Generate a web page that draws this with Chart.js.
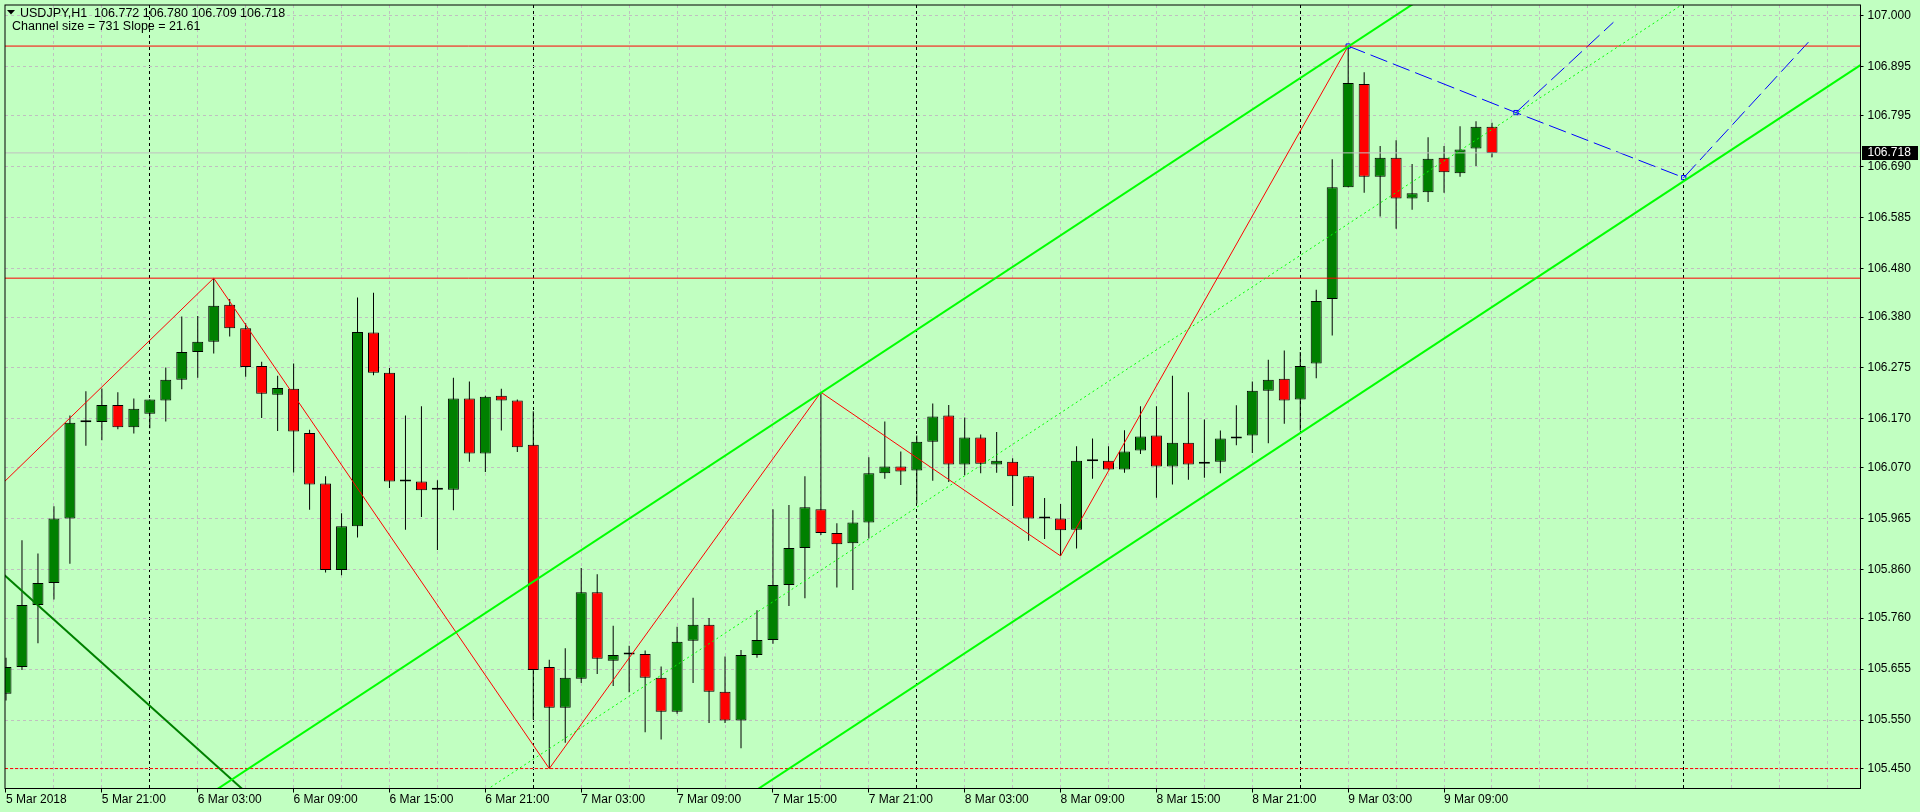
<!DOCTYPE html>
<html>
<head>
<meta charset="utf-8">
<title>USDJPY,H1</title>
<script src="https://cdn.jsdelivr.net/npm/chart.js"></script>
<style>
  html, body { margin: 0; padding: 0; background: #c1ffc1; }
  #wrap { width: 1920px; height: 812px; }
</style>
</head>
<body>
<div id="wrap"><canvas id="priceChart" width="1920" height="812"></canvas></div>
<script>
// USDJPY H1, one bar per hour from 5 Mar 15:00 to 9 Mar 12:00
const symbol = 'USDJPY,H1';
const open = [
  105.604, 105.659, 105.787, 105.832, 105.965, 106.163, 106.164, 106.199, 106.153, 106.181,
  106.208, 106.251, 106.308, 106.329, 106.405, 106.357, 106.279, 106.220, 106.232, 106.141,
  106.037, 105.859, 105.949, 106.348, 106.265, 106.041, 106.041, 106.024, 106.024, 106.212,
  106.099, 106.218, 106.208, 106.117, 105.659, 105.575, 105.635, 105.813, 105.672, 105.685,
  105.686, 105.637, 105.567, 105.713, 105.746, 105.608, 105.549, 105.684, 105.715, 105.828,
  105.904, 105.984, 105.935, 105.914, 105.957, 106.058, 106.072, 106.064, 106.123, 106.177,
  106.076, 106.132, 106.076, 106.082, 106.052, 105.965, 105.965, 105.942, 106.083, 106.084,
  106.066, 106.105, 106.136, 106.072, 106.121, 106.078, 106.082, 106.130, 106.136, 106.228,
  106.253, 106.210, 106.284, 106.417, 106.647, 106.860, 106.669, 106.708, 106.624, 106.637,
  106.708, 106.676, 106.727, 106.772
];
const high = [
  105.678, 105.920, 105.893, 105.990, 106.177, 106.227, 106.233, 106.225, 106.212, 106.210,
  106.276, 106.381, 106.382, 106.459, 106.417, 106.367, 106.288, 106.259, 106.284, 106.148,
  106.052, 105.976, 106.420, 106.430, 106.275, 106.177, 106.196, 106.044, 106.255, 106.247,
  106.218, 106.232, 106.210, 106.186, 105.674, 105.698, 105.863, 105.850, 105.744, 105.703,
  105.693, 105.660, 105.742, 105.802, 105.760, 105.681, 105.694, 105.776, 105.984, 105.993,
  106.052, 106.225, 105.955, 105.982, 106.091, 106.165, 106.103, 106.136, 106.202, 106.199,
  106.173, 106.138, 106.143, 106.089, 106.052, 106.007, 105.995, 106.114, 106.130, 106.114,
  106.147, 106.196, 106.196, 106.259, 106.225, 106.169, 106.146, 106.198, 106.247, 106.292,
  106.311, 106.308, 106.436, 106.705, 106.938, 106.884, 106.732, 106.744, 106.695, 106.750,
  106.732, 106.773, 106.783, 106.780
];
const low = [
  105.590, 105.653, 105.708, 105.798, 105.872, 106.115, 106.126, 106.149, 106.140, 106.151,
  106.165, 106.231, 106.255, 106.305, 106.340, 106.257, 106.172, 106.145, 106.060, 105.983,
  105.854, 105.848, 105.926, 106.260, 106.028, 105.942, 105.968, 105.900, 105.982, 106.082,
  106.061, 106.146, 106.102, 105.551, 105.450, 105.503, 105.626, 105.645, 105.620, 105.607,
  105.525, 105.510, 105.563, 105.626, 105.544, 105.544, 105.492, 105.678, 105.707, 105.785,
  105.801, 105.931, 105.823, 105.818, 105.924, 106.047, 106.034, 105.996, 106.043, 106.040,
  106.054, 106.058, 106.059, 105.991, 105.919, 105.923, 105.888, 105.903, 106.047, 106.066,
  106.059, 106.098, 106.008, 106.035, 106.045, 106.049, 106.058, 106.116, 106.100, 106.120,
  106.160, 106.146, 106.254, 106.342, 106.647, 106.636, 106.587, 106.562, 106.601, 106.617,
  106.636, 106.669, 106.691, 106.709
];
const close = [
  105.659, 105.787, 105.832, 105.965, 106.162, 106.163, 106.199, 106.153, 106.191, 106.210,
  106.251, 106.308, 106.329, 106.403, 106.357, 106.277, 106.222, 106.234, 106.144, 106.035,
  105.859, 105.949, 106.349, 106.265, 106.041, 106.041, 106.023, 106.024, 106.212, 106.099,
  106.216, 106.208, 106.112, 105.653, 105.575, 105.637, 105.813, 105.676, 105.684, 105.685,
  105.637, 105.567, 105.711, 105.746, 105.608, 105.549, 105.684, 105.715, 105.828, 105.904,
  105.988, 105.935, 105.912, 105.957, 106.058, 106.072, 106.062, 106.123, 106.175, 106.076,
  106.132, 106.078, 106.084, 106.052, 105.965, 105.965, 105.941, 106.084, 106.083, 106.066,
  106.103, 106.134, 106.072, 106.121, 106.076, 106.082, 106.130, 106.134, 106.228, 106.251,
  106.208, 106.279, 106.413, 106.647, 106.862, 106.669, 106.708, 106.624, 106.635, 106.706,
  106.678, 106.725, 106.772, 106.718
];

// time labels, one every 6 bars starting at bar 0
const xLabels = [
  '5 Mar 2018', '5 Mar 21:00', '6 Mar 03:00', '6 Mar 09:00', '6 Mar 15:00', '6 Mar 21:00',
  '7 Mar 03:00', '7 Mar 09:00', '7 Mar 15:00', '7 Mar 21:00', '8 Mar 03:00', '8 Mar 09:00',
  '8 Mar 15:00', '8 Mar 21:00', '9 Mar 03:00', '9 Mar 09:00'
];
const yTicks = [
  107.000, 106.895, 106.795, 106.690, 106.585, 106.480, 106.380, 106.275,
  106.170, 106.070, 105.965, 105.860, 105.760, 105.655, 105.550, 105.450
];
// day separators (bar index of midnight)
const separators = [9, 33, 57, 81, 105];

// zigzag turning points
const zigX = [-1, 13, 34, 51, 66, 84];
const zigY = [106.012, 106.460, 105.450, 106.225, 105.888, 106.938];

// equidistant channel
const channelSize = 731;
const channelSlope = 21.61;
const chanX = [0, 117];
const chanTop = [105.122, 107.650];
const chanMid = [104.756, 107.285];
const chanBot = [104.391, 106.919];

// older falling trend line
const oldX = [-1, 16];
const oldY = [105.875, 105.372];

// blue projections
const projX = [84, 94.5, 105];
const projY = [106.938, 106.801, 106.667];
const proj2X = [94.5, 100.6];
const proj2Y = [106.801, 106.987];
const proj3X = [105, 112.8];
const proj3Y = [106.667, 106.946];

const redLevels = [106.938, 106.460];
const lowLevel = 105.450;

const xMin = -0.0625, xMax = 116.0625;
const yMin = 105.40894, yMax = 107.02258;

const bullColor = '#008000';
const bearColor = '#ff0000';
const bodyColors = open.map((o, i) => close[i] > o ? bullColor : (close[i] < o ? bearColor : '#000000'));
const gridBars = Array.from({length: 39}, (_, k) => k * 3);

function line(xs, ys, color, width, dash) {
  return {
    type: 'line',
    order: 0,
    data: xs.map((x, i) => ({x: x, y: ys[i]})),
    borderColor: color,
    borderWidth: width,
    borderDash: dash || [],
    pointRadius: 0,
    fill: false,
    tension: 0,
    clip: 0
  };
}
function hline(v, color, dash) {
  return line([-1, 117], [v, v], color, 1, dash);
}

const chartFrame = {
  id: 'chartFrame',
  afterDraw(chart) {
    const ctx = chart.ctx;
    const a = chart.chartArea;
    const last = close.length - 1;
    ctx.save();
    ctx.strokeStyle = '#000';
    ctx.lineWidth = 1;
    ctx.strokeRect(a.left, a.top, a.right - a.left, a.bottom - a.top);

    ctx.fillStyle = '#000';
    ctx.beginPath();
    ctx.moveTo(7, 10);
    ctx.lineTo(15, 10);
    ctx.lineTo(11, 14.5);
    ctx.closePath();
    ctx.fill();

    ctx.font = '12.5px "Liberation Sans", Arial, sans-serif';
    ctx.textBaseline = 'alphabetic';
    ctx.fillText(symbol + '  ' + open[last].toFixed(3) + ' ' + high[last].toFixed(3) + ' ' +
      low[last].toFixed(3) + ' ' + close[last].toFixed(3), 20, 17);
    ctx.fillText('Channel size = ' + channelSize + ' Slope = ' + channelSlope, 12, 29.5);

    // bid price box on the axis
    ctx.font = '12px "Liberation Sans", Arial, sans-serif';
    const py = chart.scales.y.getPixelForValue(close[last]);
    ctx.fillRect(1862, Math.round(py) - 7, 56, 14);
    ctx.fillStyle = '#fff';
    ctx.textBaseline = 'middle';
    ctx.fillText(close[last].toFixed(3), 1867.5, py);
    ctx.restore();
  }
};

Chart.defaults.font.family = '"Liberation Sans", Arial, sans-serif';
Chart.defaults.font.size = 12;
Chart.defaults.color = '#000';

let ctx = document.getElementById('priceChart').getContext('2d');

let priceChart = new Chart(ctx, {
  type: 'line',
  data: {
    datasets: [
      line(chanX, chanTop, '#00ff00', 2),
      line(chanX, chanMid, '#00ff00', 1, [2, 3]),
      line(chanX, chanBot, '#00ff00', 2),
      line(oldX, oldY, '#008000', 2),
      line(zigX, zigY, '#ff0000', 1),
      hline(redLevels[0], '#ff0000'),
      hline(redLevels[1], '#ff0000'),
      hline(lowLevel, '#ff0000', [3, 2]),
      hline(close[close.length - 1], '#c0c0c0'),
      line(projX, projY, '#0000ff', 1, [18, 6]),
      line(proj2X, proj2Y, '#0000ff', 1, [18, 6]),
      line(proj3X, proj3Y, '#0000ff', 1, [18, 6]),
      {
        type: 'line',
        order: 0,
        data: projX.map((x, i) => ({x: x, y: projY[i]})),
        showLine: false,
        pointStyle: 'rect',
        pointRadius: 3,
        pointBorderWidth: 1,
        pointBorderColor: '#0000ff',
        pointBackgroundColor: 'rgba(0,0,0,0)',
        clip: 0
      },
      {
        type: 'bar',
        label: 'body',
        order: 1,
        data: open.map((o, i) => ({x: i, y: [o, close[i]]})),
        backgroundColor: bodyColors,
        borderColor: '#000',
        borderWidth: 1,
        borderSkipped: false,
        barThickness: 11,
        minBarLength: 2,
        grouped: false,
        inflateAmount: 0
      },
      {
        type: 'bar',
        label: 'wick',
        order: 2,
        data: low.map((l, i) => ({x: i, y: [l, high[i]]})),
        backgroundColor: '#000',
        borderWidth: 0,
        barThickness: 1,
        grouped: false,
        inflateAmount: 0
      }
    ]
  },
  options: {
    responsive: false,
    animation: false,
    events: [],
    layout: { padding: { left: 2.5, top: 2.5, right: 0, bottom: 0 } },
    plugins: {
      legend: { display: false },
      tooltip: { enabled: false }
    },
    scales: {
      x: {
        type: 'linear',
        min: xMin,
        max: xMax,
        bounds: 'data',
        offset: false,
        afterBuildTicks: function(s) { s.ticks = gridBars.map(v => ({value: v})); },
        afterFit: function(s) { s.height = 23.5; s.paddingLeft = 0; s.paddingRight = 0; },
        ticks: {
          autoSkip: false,
          maxRotation: 0,
          minRotation: 0,
          align: 'start',
          padding: 0,
          callback: function(v) {
            return (v % 6 === 0 && v / 6 < xLabels.length) ? xLabels[v / 6] : '';
          }
        },
        grid: {
          offset: false,
          lineWidth: 1,
          tickLength: 4,
          color: function(c) {
            if (!c.tick) return '#c0c0c0';
            if (c.tick.value === 0) return 'rgba(0,0,0,0)';
            return separators.includes(c.tick.value) ? '#000' : '#c0c0c0';
          },
          tickColor: function(c) {
            if (!c.tick) return '#000';
            return (c.tick.value % 6 === 0 && c.tick.value / 6 < xLabels.length) ? '#000' : 'rgba(0,0,0,0)';
          }
        },
        border: { display: false, dash: [3, 3] }
      },
      y: {
        type: 'linear',
        position: 'right',
        min: yMin,
        max: yMax,
        bounds: 'data',
        afterBuildTicks: function(s) { s.ticks = yTicks.map(v => ({value: v})); },
        afterFit: function(s) { s.width = 59.5; s.paddingTop = 0; s.paddingBottom = 0; },
        ticks: {
          autoSkip: false,
          padding: 4,
          callback: function(v) { return v.toFixed(3); }
        },
        grid: {
          lineWidth: 1,
          tickLength: 3,
          color: '#c0c0c0',
          tickColor: '#000'
        },
        border: { display: false, dash: [3, 3] }
      }
    }
  },
  plugins: [chartFrame]
});
</script>
</body>
</html>
